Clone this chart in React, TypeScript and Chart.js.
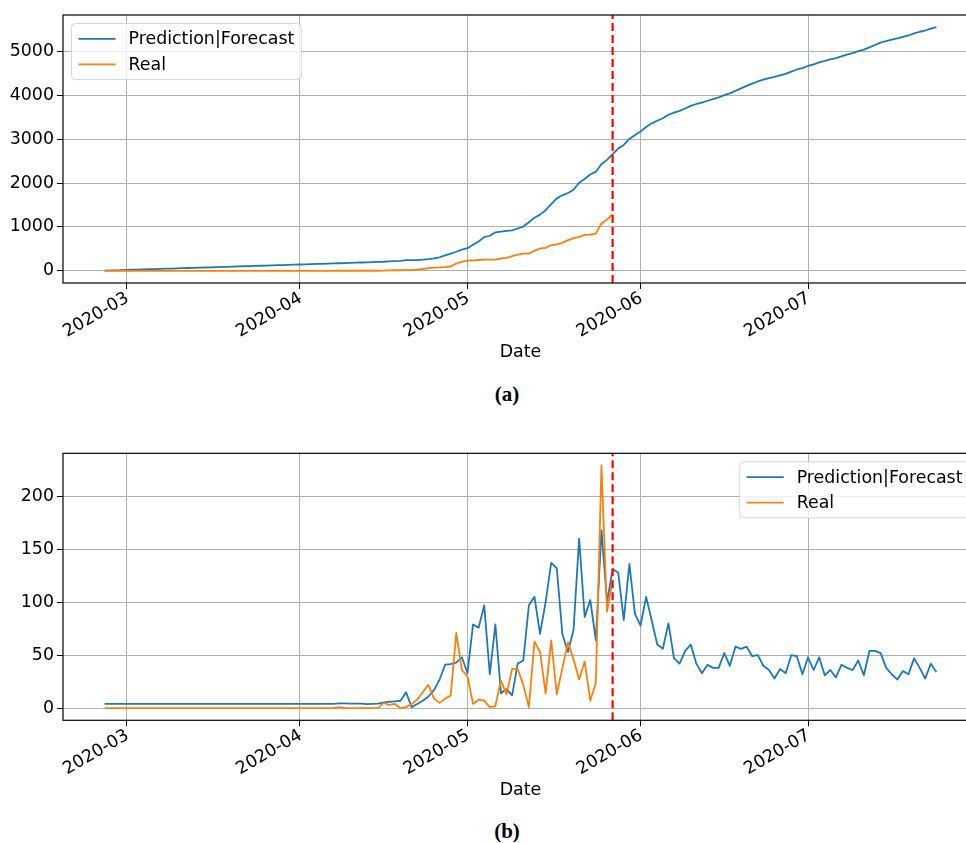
import React, { useEffect, useRef } from 'react';
import { Chart, registerables } from 'chart.js';

Chart.register(...registerables);

// ---------------- data ----------------
const START_DATE = '2020-02-26';
const FORECAST_START = '2020-05-27';
const MONTH_TICKS = ['2020-03', '2020-04', '2020-05', '2020-06', '2020-07'];
const SERIES_LABELS = ['Prediction|Forecast', 'Real'];
const CUMULATIVE_TICKS = [0, 1000, 2000, 3000, 4000, 5000];
const DAILY_TICKS = [0, 50, 100, 150, 200];
const X_TITLE = 'Date';
const CAPTIONS = ['(a)', '(b)'];

// cumulative (panel a), one value per day from START_DATE
const predictionCumulative = [
  4, 8, 12, 16, 20, 24, 28, 32, 36, 40,
  44, 48, 52, 56, 60, 64, 68, 72, 76, 80,
  84, 88, 92, 96, 100, 104, 108, 112, 116, 120,
  124, 128, 132, 136, 140, 144, 148, 152, 156, 160,
  164, 168, 172, 177, 181, 186, 190, 194, 198, 202,
  207, 213, 220, 227, 242, 243, 247, 254, 265, 282,
  309, 350, 391, 434, 482, 515, 594, 670, 767, 799,
  878, 892, 910, 922, 964, 1009, 1106, 1211, 1281, 1381,
  1518, 1650, 1720, 1773, 1847, 2007, 2093, 2195, 2259, 2427,
  2527, 2658, 2786, 2869, 3005, 3094, 3172, 3277, 3360, 3420,
  3476, 3556, 3603, 3645, 3699, 3759, 3801, 3834, 3875, 3913,
  3951, 4003, 4043, 4101, 4157, 4215, 4264, 4314, 4354, 4390,
  4418, 4455, 4488, 4538, 4587, 4619, 4667, 4703, 4751, 4782,
  4818, 4847, 4888, 4926, 4962, 5007, 5038, 5092, 5146, 5198,
  5236, 5268, 5295, 5330, 5362, 5409, 5447, 5475, 5517, 5551,
];
const realCumulative = [
  0, 0, 0, 0, 0, 0, 0, 0, 0, 0,
  0, 0, 0, 0, 0, 0, 0, 0, 0, 0,
  0, 0, 0, 0, 0, 0, 0, 0, 0, 0,
  0, 0, 0, 0, 0, 0, 0, 0, 0, 0,
  0, 0, 1, 1, 1, 1, 1, 1, 1, 1,
  6, 9, 13, 13, 14, 18, 26, 41, 63, 72,
  77, 86, 98, 169, 205, 235, 239, 247, 254, 255,
  257, 283, 296, 333, 370, 392, 393, 456, 509, 523,
  587, 600, 638, 700, 746, 773, 817, 824, 848, 1077,
  1168, 1289,
];

// daily (panel b)
const predictionDaily = [
  4, 4, 4, 4, 4, 4, 4, 4, 4, 4,
  4, 4, 4, 4, 4, 4, 4, 4, 4, 4,
  4, 4, 4, 4, 4, 4, 4, 4, 4, 4,
  4, 4, 4, 4, 4, 4, 4, 4, 4, 4,
  4, 4, 4.5, 4.5, 4.3, 4.3, 4.2, 3.8, 4, 4.2,
  5.5, 6, 6.5, 7, 15, 1, 4, 7, 11, 17,
  27, 41, 41.5, 43, 48, 33, 79, 76, 97, 32,
  79, 14, 18, 12, 42, 45, 97, 105, 70, 100,
  137, 132, 70, 53, 74, 160, 86, 102, 64, 168,
  100, 131, 128, 83, 136, 89, 78, 105, 83, 60,
  56, 80, 47, 42, 54, 60, 42, 33, 41, 38,
  38, 52, 40, 58, 56, 58, 49, 50, 40, 36,
  28, 37, 33, 50, 49, 32, 48, 36, 48, 31,
  36, 29, 41, 38, 36, 45, 31, 54, 54, 52,
  38, 32, 27, 35, 32, 47, 38, 28, 42, 34,
];
const realDaily = [
  0, 0, 0, 0, 0, 0, 0, 0, 0, 0,
  0, 0, 0, 0, 0, 0, 0, 0, 0, 0,
  0, 0, 0, 0, 0, 0, 0, 0, 0, 0,
  0, 0, 0, 0, 0, 0, 0, 0, 0, 0,
  0, 0, 1, 0, 0, 0, 0, 0, 0, 0,
  5, 3, 4, 0, 1, 4, 8, 15, 22, 9,
  5, 9, 12, 71, 36, 30, 4, 8, 7, 1,
  2, 26, 13, 37, 37, 22, 1, 63, 53, 14,
  64, 13, 38, 62, 46, 27, 44, 7, 24, 229,
  91, 121,
];

// ---------------- helpers / styling ----------------
const COLORS = ['#1f77b4', '#ff7f0e'];
const FONT_FAMILY = '"DejaVu Sans", "Noto Sans", sans-serif';
const FONT_SIZE = 17.4;
const CANVAS_W = 1000;
const PLOT_LEFT = 63;
const PLOT_RIGHT = 978;

function dayOffset(s: string): number {
  const p = s.split('-').map(Number);
  const q = START_DATE.split('-').map(Number);
  const d = p.length > 2 ? p[2] : 1;
  return Math.round((Date.UTC(p[0], p[1] - 1, d) - Date.UTC(q[0], q[1] - 1, q[2])) / 86400000);
}

const overlayPlugin = {
  id: 'overlay',
  afterDraw(chart: any, _args: any, opts: any) {
    const { ctx, chartArea: a, scales } = chart;
    const xs = scales.x;

    // x tick labels, rotated 30 degrees, right end anchored at the tick
    ctx.save();
    ctx.font = `${FONT_SIZE}px ${FONT_FAMILY}`;
    ctx.fillStyle = '#000';
    ctx.textAlign = 'right';
    ctx.textBaseline = 'alphabetic';
    opts.tickDays.forEach((d: number, i: number) => {
      const px = xs.getPixelForValue(d);
      ctx.save();
      ctx.translate(px + 3, a.bottom + 18);
      ctx.rotate(-Math.PI / 6);
      ctx.fillText(opts.tickLabels[i], 0, 0);
      ctx.restore();
    });
    ctx.restore();

    // forecast start marker
    const x = xs.getPixelForValue(opts.markerDay);
    ctx.save();
    ctx.beginPath();
    ctx.rect(a.left, a.top, a.right - a.left, a.bottom - a.top);
    ctx.clip();
    ctx.strokeStyle = '#ff0000';
    ctx.lineWidth = 2.2;
    ctx.setLineDash([8, 4]);
    ctx.beginPath();
    ctx.moveTo(x, a.bottom);
    ctx.lineTo(x, a.top);
    ctx.stroke();
    ctx.restore();

    // frame
    ctx.save();
    ctx.strokeStyle = '#000';
    ctx.lineWidth = 1.2;
    ctx.strokeRect(a.left, a.top, a.right - a.left, a.bottom - a.top);
    ctx.restore();

    // legend
    const ds = chart.data.datasets;
    ctx.save();
    ctx.font = `${FONT_SIZE}px ${FONT_FAMILY}`;
    const textW = Math.max(...ds.map((d: any) => ctx.measureText(d.label).width));
    const pad = 7, handle = 37, gap = 13, row = 25.5, edge = 8.5;
    const w = pad + handle + gap + textW + pad;
    const h = 2 * 6.8 + ds.length * 17 + (ds.length - 1) * 8.5;
    const left = opts.legendSide === 'left' ? a.left + edge : a.right - edge - w;
    const top = a.top + edge;
    ctx.beginPath();
    (ctx as any).roundRect(left, top, w, h, 4);
    ctx.fillStyle = 'rgba(255,255,255,0.8)';
    ctx.fill();
    ctx.strokeStyle = 'rgba(204,204,204,0.8)';
    ctx.lineWidth = 1;
    ctx.stroke();
    ds.forEach((d: any, i: number) => {
      const cy = top + 6.8 + 8.5 + i * row;
      ctx.strokeStyle = d.borderColor;
      ctx.lineWidth = 1.8;
      ctx.beginPath();
      ctx.moveTo(left + pad, cy);
      ctx.lineTo(left + pad + handle, cy);
      ctx.stroke();
      ctx.fillStyle = '#000';
      ctx.textBaseline = 'middle';
      ctx.textAlign = 'left';
      ctx.fillText(d.label, left + pad + handle + gap, cy + 1);
    });
    ctx.restore();
  },
};

type PanelProps = {
  pred: number[];
  real: number[];
  yTicks: number[];
  legendSide: 'left' | 'right';
  top: number;
  padTop: number;
  plotHeight: number;
  axisHeight: number;
};

function Panel({ pred, real, yTicks, legendSide, top, padTop, plotHeight, axisHeight }: PanelProps) {
  const ref = useRef<HTMLCanvasElement>(null);
  const canvasH = padTop + plotHeight + axisHeight;
  useEffect(() => {
    const canvas = ref.current;
    if (!canvas) return;
    const all = [...pred, ...real];
    const lo = Math.min(...all);
    const hi = Math.max(...all);
    const ym = (hi - lo) * 0.05;
    const lastDay = pred.length - 1;
    const xm = lastDay * 0.05;
    const tickDays = MONTH_TICKS.map(dayOffset);
    const font = { family: FONT_FAMILY, size: FONT_SIZE };
    const grid = { color: '#b0b0b0', lineWidth: 1, tickColor: '#000', tickLength: 6, drawTicks: true };
    const chart = new Chart(canvas, {
      type: 'line',
      data: {
        datasets: [
          {
            label: SERIES_LABELS[0],
            data: pred.map((y, i) => ({ x: i, y })),
            borderColor: COLORS[0],
            backgroundColor: COLORS[0],
            borderWidth: 1.8,
            pointRadius: 0,
            tension: 0,
            fill: false,
            borderJoinStyle: 'round',
            order: 1,
          },
          {
            label: SERIES_LABELS[1],
            data: real.map((y, i) => ({ x: i, y })),
            borderColor: COLORS[1],
            backgroundColor: COLORS[1],
            borderWidth: 1.8,
            pointRadius: 0,
            tension: 0,
            fill: false,
            borderJoinStyle: 'round',
            order: 0,
          },
        ],
      },
      options: {
        responsive: false,
        animation: false,
        devicePixelRatio: 1,
        events: [],
        layout: { padding: { top: padTop, left: 0, right: CANVAS_W - PLOT_RIGHT, bottom: 0 } },
        plugins: {
          legend: { display: false },
          tooltip: { enabled: false },
          overlay: {
            markerDay: dayOffset(FORECAST_START),
            legendSide,
            tickDays,
            tickLabels: MONTH_TICKS,
          },
        } as any,
        scales: {
          x: {
            type: 'linear',
            min: -xm,
            max: lastDay + xm,
            afterBuildTicks: (s: any) => { s.ticks = tickDays.map((v) => ({ value: v })); },
            afterFit: (s: any) => { s.height = axisHeight; },
            ticks: { display: false, autoSkip: false },
            grid,
            border: { display: false },
            title: {
              display: true,
              text: X_TITLE,
              color: '#000',
              font,
              padding: { top: 0, bottom: 7 },
            },
          },
          y: {
            type: 'linear',
            min: lo - ym,
            max: hi + ym,
            afterBuildTicks: (s: any) => { s.ticks = yTicks.map((v) => ({ value: v })); },
            afterFit: (s: any) => { s.width = PLOT_LEFT; },
            ticks: { color: '#000', font, padding: 3, callback: (v: any) => String(v) },
            grid,
            border: { display: false },
          },
        },
      } as any,
      plugins: [overlayPlugin],
    });
    return () => chart.destroy();
  }, []);
  return (
    <canvas
      ref={ref}
      width={CANVAS_W}
      height={canvasH}
      style={{ position: 'absolute', left: 0, top, display: 'block' }}
    />
  );
}

const captionStyle = (top: number): React.CSSProperties => ({
  position: 'absolute',
  top,
  left: 0,
  width: 1014,
  textAlign: 'center',
  fontFamily: '"Liberation Serif", "DejaVu Serif", serif',
  fontWeight: 'bold',
  fontSize: 21,
  lineHeight: '21px',
  color: '#000',
});

export default function App() {
  return (
    <div
      style={{
        position: 'fixed',
        left: 0,
        top: 0,
        width: 966,
        height: 843,
        overflow: 'hidden',
        background: '#fff',
      }}
    >
      <Panel
        pred={predictionCumulative}
        real={realCumulative}
        yTicks={CUMULATIVE_TICKS}
        legendSide="left"
        top={0}
        padTop={15}
        plotHeight={268}
        axisHeight={87}
      />
      <div style={captionStyle(384)}>{CAPTIONS[0]}</div>
      <Panel
        pred={predictionDaily}
        real={realDaily}
        yTicks={DAILY_TICKS}
        legendSide="right"
        top={438}
        padTop={15.3}
        plotHeight={267}
        axisHeight={87.7}
      />
      <div style={captionStyle(821)}>{CAPTIONS[1]}</div>
    </div>
  );
}
